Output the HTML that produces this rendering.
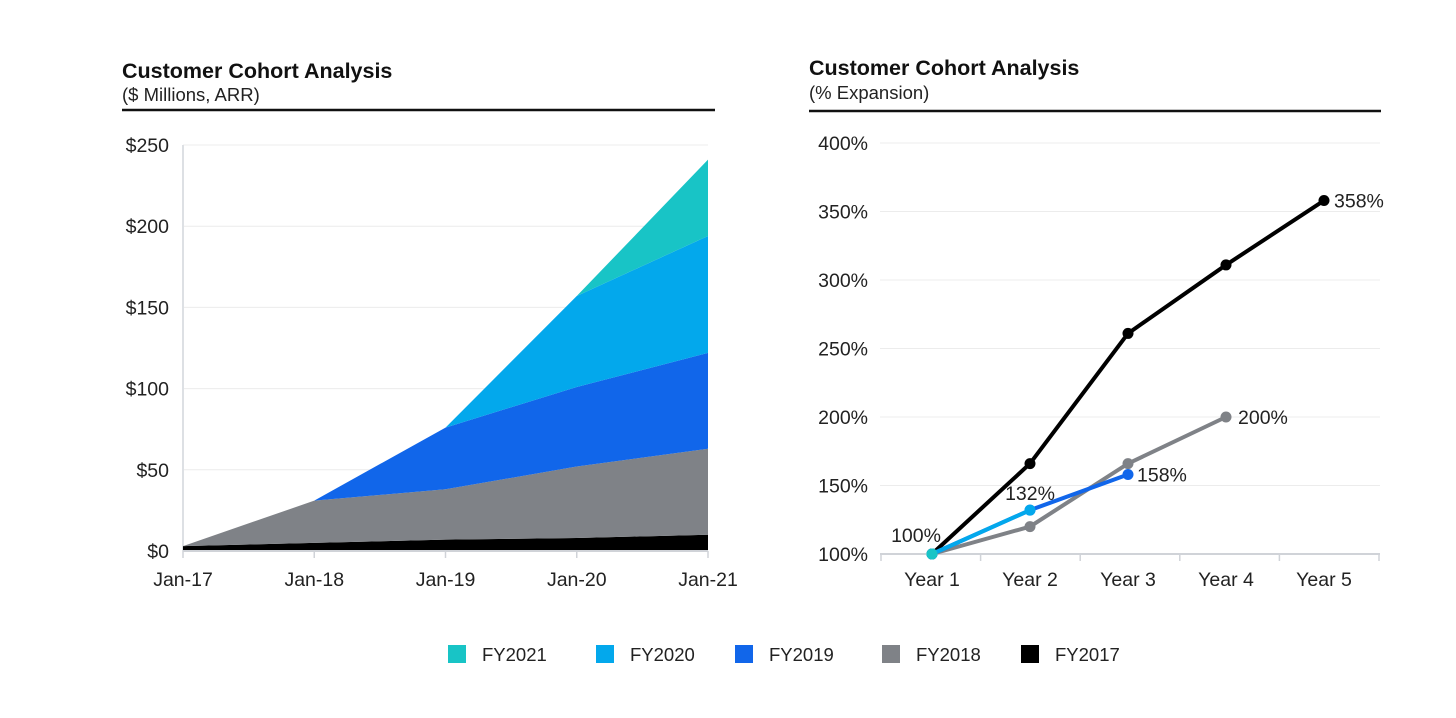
<!DOCTYPE html>
<html><head><meta charset="utf-8"><style>
body{margin:0;background:#fff;font-family:"Liberation Sans",sans-serif;}
svg text{font-family:"Liberation Sans",sans-serif;}
</style></head><body>
<svg id="c" width="1456" height="713" viewBox="0 0 1456 713" xmlns="http://www.w3.org/2000/svg">
<text x="122" y="78" font-size="21.5" font-weight="bold" fill="#111">Customer Cohort Analysis</text>
<text x="122" y="101" font-size="18.5" fill="#222">($ Millions, ARR)</text>
<line x1="122" y1="110" x2="715" y2="110" stroke="#111" stroke-width="2.5"/>
<text x="809" y="75" font-size="21.5" font-weight="bold" fill="#111">Customer Cohort Analysis</text>
<text x="809" y="99" font-size="18.5" fill="#222">(% Expansion)</text>
<line x1="809" y1="111" x2="1381" y2="111" stroke="#111" stroke-width="2.5"/>
<g id="left"></g><g id="right"></g><g id="legend"></g>
</svg>
<script>
const dates=["Jan-17","Jan-18","Jan-19","Jan-20","Jan-21"];
const arrTicks=[0,50,100,150,200,250];
const cohortNames=["FY2017","FY2018","FY2019","FY2020","FY2021"];
const fy2017=[3,5,7,8,10];
const fy2018=[0,26,31,44,53];
const fy2019=[0,0,38,49,59];
const fy2020=[0,0,0,56,72];
const fy2021=[0,0,0,0,47];
const colors=["#000000","#7f8287","#1166ea","#03a8ec","#18c4c6"];
const years=["Year 1","Year 2","Year 3","Year 4","Year 5"];
const pctTicks=[100,150,200,250,300,350,400];
const exp2017=[100,166,261,311,358];
const exp2018=[100,120,166,200];
const exp2019=[100,132,158];
const exp2020=[100,132];
const exp2021=[100];
const NS="http://www.w3.org/2000/svg";
const FS=19.5;
function mk(p,t,a){const e=document.createElementNS(NS,t);for(const k in a)e.setAttribute(k,a[k]);p.appendChild(e);return e;}
// left
const L=document.getElementById('left');
const lx=i=>183+i*(708-183)/(dates.length-1);
const ly=v=>551-v*(406/250);
arrTicks.forEach(t=>{
 if(t>0){const g=mk(L,'line',{x1:183,x2:708,y1:ly(t),y2:ly(t),stroke:'#ececec'});
 
 }
 const e=mk(L,'text',{x:169,y:ly(t)+7,'font-size':FS,'text-anchor':'end',fill:'#222'});e.textContent='$'+t;
 
 
});
const ax=mk(L,'line',{x1:183,x2:183,y1:145,y2:551,stroke:'#dde0e4','stroke-width':2});


const layers=[fy2017,fy2018,fy2019,fy2020,fy2021];
let base=dates.map(()=>0);
layers.forEach((s,k)=>{
 const top=base.map((b,i)=>b+s[i]);
 let d='M'+top.map((v,i)=>lx(i)+','+ly(v)).join(' L');
 for(let i=dates.length-1;i>=0;i--)d+=' L'+lx(i)+','+ly(base[i]);
 const p=mk(L,'path',{d:d+'Z',fill:colors[k]});
 
 
 base=top;
});
const xa=mk(L,'line',{x1:183,x2:708,y1:551,y2:551,stroke:'#d0d3d8','stroke-width':2});


dates.forEach((d,i)=>{
 mk(L,'line',{x1:lx(i),x2:lx(i),y1:551,y2:558,stroke:'#d0d3d8','stroke-width':1.5});
 const e=mk(L,'text',{x:lx(i),y:586,'font-size':FS,'text-anchor':'middle',fill:'#222'});e.textContent=d;
 
 
});
// right
const R=document.getElementById('right');
const rx=i=>932+i*98;
const ry=v=>554-(v-100)*(411/300);
pctTicks.forEach(t=>{
 if(t>100){const g=mk(R,'line',{x1:880,x2:1380,y1:ry(t),y2:ry(t),stroke:'#ececec'});
 
 }
 const e=mk(R,'text',{x:868,y:ry(t)+7,'font-size':FS,'text-anchor':'end',fill:'#222'});e.textContent=t+'%';
 
 
});
const rxa=mk(R,'line',{x1:880,x2:1380,y1:554,y2:554,stroke:'#d0d3d8','stroke-width':2});


[0,1,2,3,4,5].forEach(i=>mk(R,'line',{x1:881+i*99.6,x2:881+i*99.6,y1:554,y2:561,stroke:'#d0d3d8','stroke-width':1.5}));
years.forEach((y,i)=>{
 const e=mk(R,'text',{x:rx(i),y:586,'font-size':FS,'text-anchor':'middle',fill:'#222'});e.textContent=y;
 
 
});
const series=[[exp2018,colors[1],'fy2018'],[exp2017,colors[0],'fy2017'],[exp2019,colors[2],'fy2019'],[exp2020,colors[3],'fy2020'],[exp2021,colors[4],'fy2021']];
series.forEach(([s,c,n])=>{
 if(s.length>1){const l=mk(R,'polyline',{points:s.map((v,i)=>rx(i)+','+ry(v)).join(' '),fill:'none',stroke:c,'stroke-width':4});
 
 }
 s.forEach((v,i)=>{const p=mk(R,'circle',{cx:rx(i),cy:ry(v),r:5.5,fill:c});
 
 });
});
function lab(t,x,y,a){const e=mk(R,'text',{x:x,y:y,'font-size':FS,fill:'#222','text-anchor':a||'start'});e.textContent=t;
 
 }
lab(exp2017[4]+'%',rx(4)+10,ry(exp2017[4])+7);
lab(exp2018[3]+'%',rx(3)+12,ry(exp2018[3])+7);
lab(exp2019[2]+'%',rx(2)+9,ry(exp2019[2])+7);
lab(exp2020[1]+'%',rx(1),ry(exp2020[1])-10,'middle');
lab(exp2021[0]+'%',rx(0)-16,ry(exp2021[0])-12,'middle');
// legend
const G=document.getElementById('legend');
const lgX=[448,596,735,882,1021];
const order=[4,3,2,1,0];
order.forEach((k,j)=>{
 const r=mk(G,'rect',{x:lgX[j],y:645,width:18,height:18,fill:colors[k]});
 
 
 const t=mk(G,'text',{x:lgX[j]+34,y:661,'font-size':18.5,fill:'#222'});t.textContent=cohortNames[k];
 
 
});
</script>
</body></html>
